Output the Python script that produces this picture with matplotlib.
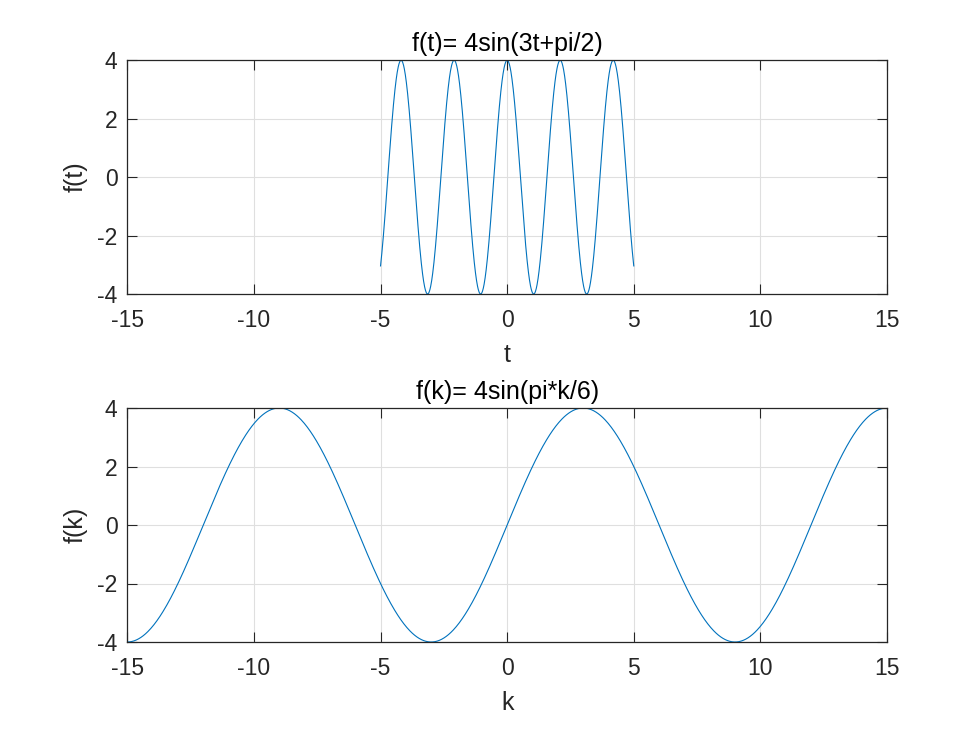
import numpy as np
import matplotlib
matplotlib.use("Agg")
import matplotlib.pyplot as plt

# Data: parameters of the plotted functions (as stated in the titles)
amp_t, omega_t, phase_t = 4.0, 3.0, np.pi / 2
t_range = (-5.0, 5.0)
amp_k, omega_k = 4.0, np.pi / 6
k_range = (-15.0, 15.0)
x_ticks = [-15, -10, -5, 0, 5, 10, 15]
y_ticks = [-4, -2, 0, 2, 4]
titles = ["f(t)= 4sin(3t+pi/2)", "f(k)= 4sin(pi*k/6)"]
xlabels = ["t", "k"]
ylabels = ["f(t)", "f(k)"]

t = np.linspace(t_range[0], t_range[1], 1001)
ft = amp_t * np.sin(omega_t * t + phase_t)
k = np.linspace(k_range[0], k_range[1], 1001)
fk = amp_k * np.sin(omega_k * k)

plt.rcParams['font.family'] = ['Liberation Sans', 'DejaVu Sans']
plt.rcParams['axes.unicode_minus'] = False
fig = plt.figure(figsize=(9.8, 7.35), dpi=100)
W, H = 980, 735
ax1 = fig.add_axes([127.3 / W, 1 - 294 / H, (887 - 127.3) / W, (294 - 60.3) / H])
ax2 = fig.add_axes([127.3 / W, 1 - 642 / H, (887 - 127.3) / W, (642 - 408) / H])

dark = '#262626'
for ax, x, y, ti, xl, yl in [(ax1, t, ft, titles[0], xlabels[0], ylabels[0]),
                              (ax2, k, fk, titles[1], xlabels[1], ylabels[1])]:
    ax.plot(x, y, color='#0072BD', lw=0.8)
    ax.set_xlim(-15, 15)
    ax.set_ylim(-4, 4)
    ax.set_xticks(x_ticks)
    ax.set_yticks(y_ticks)
    ax.grid(True, color='#dfdfdf', lw=0.8)
    ax.set_axisbelow(True)
    ax.tick_params(direction='in', length=7, width=0.8, colors=dark,
                   labelsize=16.5, top=True, right=True)
    ax.tick_params(axis='x', pad=11)
    ax.tick_params(axis='y', pad=7)
    for s in ax.spines.values():
        s.set_color(dark)
        s.set_linewidth(0.9)
    ax.set_title(ti, fontsize=18, color='black', pad=6.5)
    ax.set_xlabel(xl, fontsize=18, color=dark, labelpad=8)
    ax.set_ylabel(yl, fontsize=18, color=dark, labelpad=7)

fig.savefig("out.png", dpi=100, facecolor='white')
